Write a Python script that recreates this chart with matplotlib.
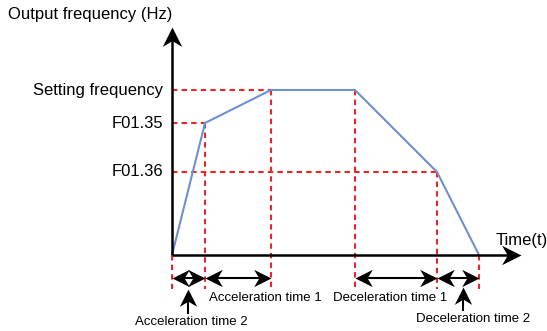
import matplotlib.pyplot as plt
import numpy as np
from matplotlib.path import Path
from matplotlib.markers import MarkerStyle
from matplotlib.transforms import Affine2D

plt.rcParams['font.family'] = ['Liberation Sans', 'DejaVu Sans']

# profile corner points (time, frequency) in drawing units
t_pts = [0, 33, 99, 183, 265, 307]
f_pts = [0, 132, 165, 165, 83, 0]

# frequency levels and their labels
f_levels = [165, 132, 83]
f_labels = ['Setting frequency', 'F01.35', 'F01.36']
f_ends = [99, 33, 265]

# time spans shown with double arrows
spans = [(0, 33), (33, 99), (183, 265), (265, 307)]

red = '#e8262c'
blue = '#6f91c9'

# stealth-like arrow head, tip at origin pointing right
head_path = Path([(0, 0), (-1, 0.5), (-0.7, 0), (-1, -0.5), (0, 0)],
                 [Path.MOVETO, Path.LINETO, Path.LINETO, Path.LINETO, Path.CLOSEPOLY])


def head(ax, x, y, angle, ms=16):
    m = MarkerStyle(head_path, transform=Affine2D().rotate_deg(angle))
    ax.plot([x], [y], marker=m, markersize=ms, color='black', mew=0, zorder=5)


fig = plt.figure(figsize=(5.47, 3.31), dpi=100)
ax = fig.add_axes([0, 0, 1, 1])
ax.set_xlim(-172, 375)
ax.set_ylim(-76, 255)
ax.axis('off')

dash = (0, (2.6, 2.0))
# horizontal guides
for lev, xe in zip(f_levels, f_ends):
    ax.plot([0, xe], [lev, lev], color=red, lw=1.5, linestyle=dash, zorder=1)
# vertical guides
for t, f in zip(t_pts, f_pts):
    ax.plot([t, t], [f, -34], color=red, lw=1.5, linestyle=dash, zorder=1)

# frequency profile
ax.plot(t_pts, f_pts, color=blue, lw=1.5, zorder=3)

# axes with arrows
ax.plot([0, 0], [0, 218], color='black', lw=1.8, zorder=4, solid_capstyle='butt')
head(ax, 0, 228, 90, ms=28)
ax.plot([0, 338], [0, 0], color='black', lw=1.8, zorder=4, solid_capstyle='butt')
head(ax, 349, 0, 0, ms=28)

ax.text(-164, 240, 'Output frequency (Hz)', fontsize=12, ha='left', va='center')
ax.text(324, 15, 'Time(t)', fontsize=12, ha='left', va='center')
for lev, lab in zip(f_levels, f_labels):
    ax.text(-9, lev, lab, fontsize=12, ha='right', va='center')

# double arrows for the times
for a, b in spans:
    ax.plot([a + 6, b - 6], [-22.7, -22.7], color='black', lw=1.5, zorder=4)
    head(ax, a, -22.7, 180, ms=25)
    head(ax, b, -22.7, 0, ms=25)

ax.text(93, -43, 'Acceleration time 1', fontsize=9.5, ha='center', va='center')
ax.text(218, -43, 'Deceleration time 1', fontsize=9.5, ha='center', va='center')

ax.plot([16, 16], [-58, -42], color='black', lw=1.5, zorder=4)
head(ax, 16, -34, 90, ms=25)
ax.text(19, -67, 'Acceleration time 2', fontsize=9.5, ha='center', va='center')

ax.plot([291, 291], [-55, -40], color='black', lw=1.5, zorder=4)
head(ax, 291, -32, 90, ms=25)
ax.text(301, -64, 'Deceleration time 2', fontsize=9.5, ha='center', va='center')

fig.savefig('out.png', dpi=100)
